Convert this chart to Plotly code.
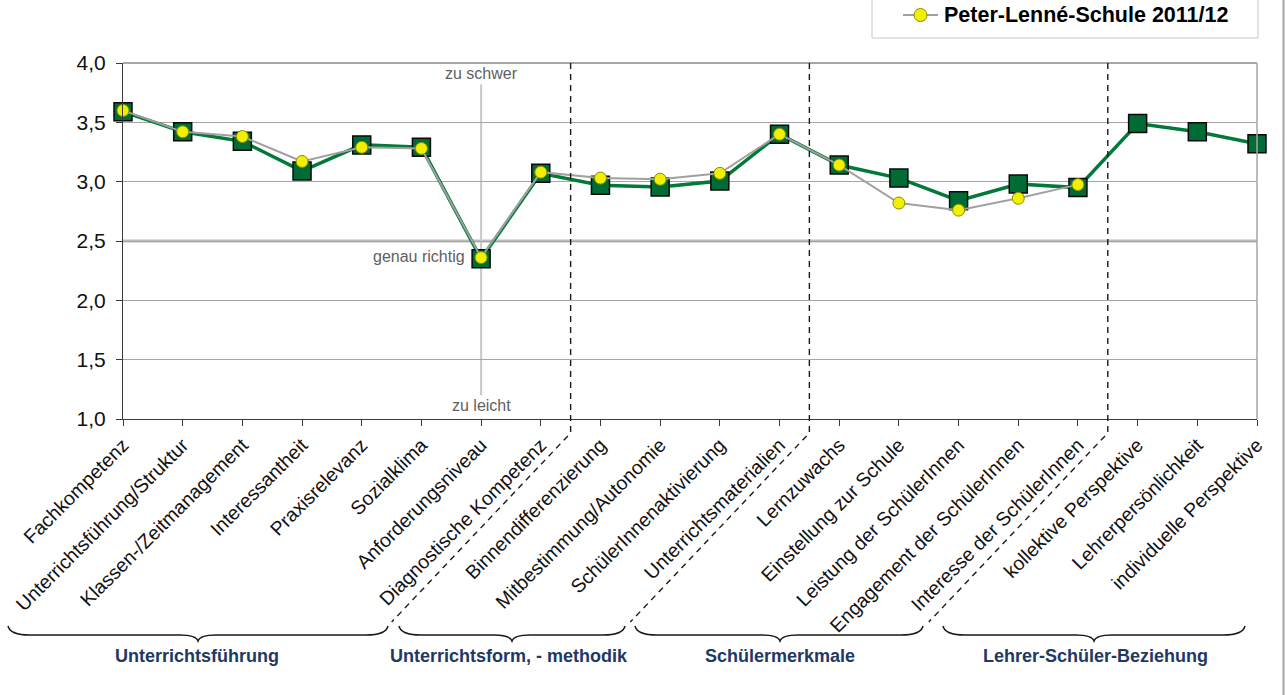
import plotly.graph_objects as go

# --- Daten -----------------------------------------------------------------
kategorien = [
    "Fachkompetenz", "Unterrichtsführung/Struktur", "Klassen-/Zeitmanagement",
    "Interessantheit", "Praxisrelevanz", "Sozialklima", "Anforderungsniveau",
    "Diagnostische Kompetenz", "Binnendifferenzierung", "Mitbestimmung/Autonomie",
    "SchülerInnenaktivierung", "Unterrichtsmaterialien", "Lernzuwachs",
    "Einstellung zur Schule", "Leistung der SchülerInnen",
    "Engagement der SchülerInnen", "Interesse der SchülerInnen",
    "kollektive Perspektive", "Lehrerpersönlichkeit", "individuelle Perspektive",
]

vergleich = [3.59, 3.42, 3.34, 3.09, 3.31, 3.29, 2.35, 3.07, 2.97, 2.955,
             3.005, 3.40, 3.14, 3.03, 2.84, 2.98, 2.95, 3.49, 3.42, 3.32]

schule_2011_12 = [3.60, 3.42, 3.38, 3.17, 3.29, 3.28, 2.36, 3.08, 3.03, 3.02,
                  3.07, 3.40, 3.14, 2.82, 2.76, 2.86, 2.975, None, None, None]

schule_name = "Peter-Lenné-Schule 2011/12"

gruppen = ["Unterrichtsführung", "Unterrichtsform, - methodik",
           "Schülermerkmale", "Lehrer-Schüler-Beziehung"]
gruppen_grenzen = [7.5, 11.5, 16.5]          # zwischen den Kategorien

y_ticks = [1.0, 1.5, 2.0, 2.5, 3.0, 3.5, 4.0]

# --- Layout-Konstanten (Pixel) ----------------------------------------------
W, H = 1287, 695
L, R, T, B = 123, 30, 63, 276
PW, PH = W - L - R, H - T - B
FONT = "Liberation Sans, Arial, sans-serif"


def px_x(px):
    return (px - L) / PW


def px_y(py):
    return (H - B - py) / PH


x = list(range(len(kategorien)))

fig = go.Figure()

# Vergleichslinie (grün, Quadrate)
fig.add_trace(go.Scatter(
    x=x, y=vergleich, mode="lines+markers", name="Vergleich",
    showlegend=False, cliponaxis=False,
    line=dict(color="#00793A", width=3.5),
    marker=dict(symbol="square", size=18, color="#006B35",
                line=dict(color="#0A0A0A", width=1.5)),
))

# Schule (grau, gelbe Kreise)
fig.add_trace(go.Scatter(
    x=x, y=schule_2011_12, mode="lines+markers", name=schule_name,
    showlegend=False, cliponaxis=False, connectgaps=False,
    line=dict(color="#A0A0A0", width=2),
    marker=dict(symbol="circle", size=12, color="#F0F000",
                line=dict(color="#8C8C00", width=1)),
))

shapes = []

# Bezugslinie "genau richtig"
shapes.append(dict(type="line", xref="x", yref="y", x0=0, x1=19, y0=2.5, y1=2.5,
                   line=dict(color="#BDBDBD", width=3), layer="below"))
# senkrechte Skala beim Anforderungsniveau
shapes.append(dict(type="line", xref="x", yref="y", x0=6, x1=6, y0=3.82, y1=1.2,
                   line=dict(color="#C8C8C8", width=2), layer="below"))

# Rahmen oben / rechts des Diagrammbereichs
shapes.append(dict(type="line", xref="paper", yref="paper", x0=0, x1=1, y0=1, y1=1,
                   line=dict(color="#8A8A8A", width=1.5)))
shapes.append(dict(type="line", xref="paper", yref="paper", x0=1, x1=1, y0=0, y1=1,
                   line=dict(color="#A6A6A6", width=1.5)))

# gestrichelte Gruppentrenner, senkrecht durch das Diagramm und schräg nach unten
for g in gruppen_grenzen:
    xg = px_x(L + g * PW / 19)
    path = (f"M {xg},1 L {xg},{px_y(433)} "
            f"L {xg - 179 / PW},{px_y(622)}")
    shapes.append(dict(type="path", xref="paper", yref="paper", path=path,
                       line=dict(color="#1A1A1A", width=1.4, dash="6px,5px")))

# geschweifte Klammern unter den Achsenbeschriftungen
klammern = [(8, 388, 198), (399, 625, 512), (635, 923, 780), (943, 1245, 1094)]
ya, yb, ym = 626, 635, 641


def klammer(xa, xb, xm):
    pts = [
        f"M {px_x(xa)},{px_y(ya)}",
        f"Q {px_x(xa + 2)},{px_y(yb)} {px_x(xa + 22)},{px_y(yb)}",
        f"L {px_x(xm - 18)},{px_y(yb)}",
        f"Q {px_x(xm - 2)},{px_y(yb)} {px_x(xm)},{px_y(ym)}",
        f"Q {px_x(xm + 2)},{px_y(yb)} {px_x(xm + 18)},{px_y(yb)}",
        f"L {px_x(xb - 22)},{px_y(yb)}",
        f"Q {px_x(xb - 2)},{px_y(yb)} {px_x(xb)},{px_y(ya)}",
    ]
    return " ".join(pts)


for xa, xb, xm in klammern:
    shapes.append(dict(type="path", xref="paper", yref="paper",
                       path=klammer(xa, xb, xm),
                       line=dict(color="#1A1A1A", width=1.5)))

# äußerer Rahmen rechts
shapes.append(dict(type="line", xref="paper", yref="paper",
                   x0=px_x(1283.5), x1=px_x(1283.5), y0=px_y(0), y1=px_y(H),
                   line=dict(color="#A6A6A6", width=2)))

# Legende
shapes.append(dict(type="rect", xref="paper", yref="paper",
                   x0=px_x(872), x1=px_x(1258), y0=px_y(-6), y1=px_y(38),
                   fillcolor="white", line=dict(color="#C8C8C8", width=1)))
shapes.append(dict(type="line", xref="paper", yref="paper",
                   x0=px_x(903), x1=px_x(938), y0=px_y(15), y1=px_y(15),
                   line=dict(color="#A0A0A0", width=2)))
shapes.append(dict(type="circle", xref="paper", yref="paper",
                   x0=px_x(914), x1=px_x(927), y0=px_y(21.5), y1=px_y(8.5),
                   fillcolor="#F0F000", line=dict(color="#8C8C00", width=1)))

annotations = [
    dict(x=px_x(942), y=px_y(15), xref="paper", yref="paper", text=f"<b>{schule_name}</b>",
         showarrow=False, xanchor="left", yanchor="middle",
         font=dict(family=FONT, size=21.5, color="#000000")),
    dict(x=6, y=3.91, xref="x", yref="y", text="zu schwer", showarrow=False,
         xanchor="center", yanchor="middle",
         font=dict(family=FONT, size=16, color="#5F5F5F")),
    dict(x=6, y=1.114, xref="x", yref="y", text="zu leicht", showarrow=False,
         xanchor="center", yanchor="middle",
         font=dict(family=FONT, size=16, color="#5F5F5F")),
    dict(x=6, y=2.37, xref="x", yref="y", text="genau richtig", showarrow=False,
         xanchor="right", yanchor="middle", xshift=-14,
         font=dict(family=FONT, size=16, color="#5F5F5F")),
]

gruppen_mitte = [197, 509, 780, 1095]
for name, cx in zip(gruppen, gruppen_mitte):
    annotations.append(dict(
        x=px_x(cx), y=px_y(656), xref="paper", yref="paper", text=f"<b>{name}</b>",
        showarrow=False, xanchor="center", yanchor="middle",
        font=dict(family=FONT, size=18, color="#1F3864")))

fig.update_layout(
    width=W, height=H,
    margin=dict(l=L, r=R, t=T, b=B, autoexpand=False),
    paper_bgcolor="white", plot_bgcolor="white",
    separators=",.",
    showlegend=False,
    shapes=shapes, annotations=annotations,
    font=dict(family=FONT),
    xaxis=dict(
        range=[0, 19], tickmode="array", tickvals=x, ticktext=kategorien,
        tickangle=-45, showgrid=False, zeroline=False,
        showline=True, linecolor="#3A3A3A", linewidth=1.2,
        ticks="outside", ticklen=6, tickcolor="#3A3A3A",
        tickfont=dict(family=FONT, size=19.5, color="#111111"),
    ),
    yaxis=dict(
        range=[1, 4], tickmode="array", tickvals=y_ticks, tickformat=".1f",
        showgrid=True, gridcolor="#A6A6A6", gridwidth=1, zeroline=False,
        showline=True, linecolor="#3A3A3A", linewidth=1.2,
        ticks="outside", ticklen=6, tickcolor="#3A3A3A",
        ticklabelstandoff=6,
        tickfont=dict(family=FONT, size=21, color="#111111"),
    ),
)

fig.write_html("out.html", config=dict(displayModeBar=False))
